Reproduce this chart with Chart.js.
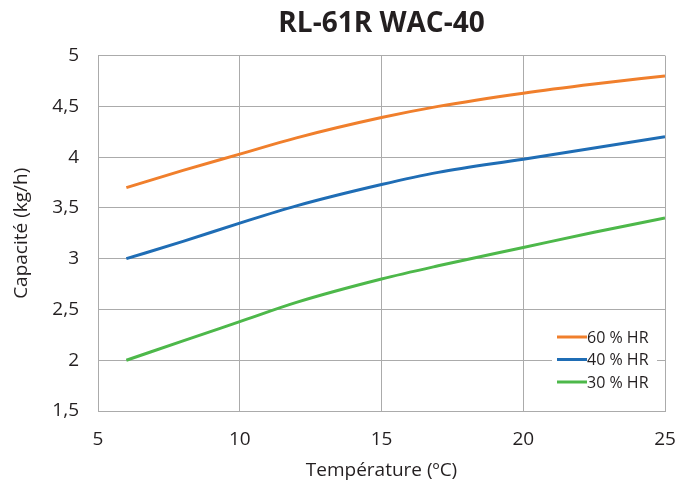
<!DOCTYPE html>
<html>
<head>
<meta charset="utf-8">
<script src="https://cdn.jsdelivr.net/npm/chart.js@4/dist/chart.umd.min.js"></script>
<style>
html,body{margin:0;padding:0;background:#fff;}
#wrap{width:675px;height:486px;position:relative;}
</style>
</head>
<body>
<div id="wrap"><canvas id="c"></canvas></div>
<script>
const temperatures = [6, 8, 10, 12, 15, 17, 20, 22.5, 25];
const hr60 = [3.70, 3.87, 4.03, 4.19, 4.39, 4.50, 4.63, 4.72, 4.80];
const hr40 = [3.00, 3.17, 3.35, 3.52, 3.73, 3.85, 3.98, 4.09, 4.20];
const hr30 = [2.00, 2.19, 2.38, 2.57, 2.80, 2.93, 3.11, 3.26, 3.40];
const seriesLabels = ['60 % HR', '40 % HR', '30 % HR'];
const titleText = 'RL-61R WAC-40';
const xTitle = 'Température (ºC)';
const yTitle = 'Capacité (kg/h)';

const colors = ['#F07F2C', '#1F6DB5', '#4DB84A'];
const FONT = "'Open Sans', 'Noto Sans', sans-serif";
const TXT = '#231F20';
const GRID = '#ABABAB';

function toPts(ys){ return temperatures.map((x,i)=>({x:x,y:ys[i]})); }

const legendPlugin = {
  id: 'insideLegend',
  afterDraw(chart){
    const ctx = chart.ctx;
    const ds = chart.data.datasets;
    ctx.save();
    ctx.fillStyle = '#fff';
    ctx.fillRect(552, 325, 105, 68);
    ctx.font = "16px " + FONT;
    ctx.textBaseline = 'middle';
    ctx.textAlign = 'left';
    ds.forEach((d,i)=>{
      const y = 337 + i*22.5;
      ctx.strokeStyle = d.borderColor;
      ctx.lineWidth = 3;
      ctx.beginPath();
      ctx.moveTo(557, y);
      ctx.lineTo(587, y);
      ctx.stroke();
      ctx.fillStyle = TXT;
      ctx.fillText(d.label, 587, y + 1);
    });
    ctx.restore();
  }
};

new Chart(document.getElementById('c'), {
  type: 'line',
  data: {
    datasets: [
      {label: seriesLabels[0], data: toPts(hr60), borderColor: colors[0]},
      {label: seriesLabels[1], data: toPts(hr40), borderColor: colors[1]},
      {label: seriesLabels[2], data: toPts(hr30), borderColor: colors[2]}
    ].map(d=>Object.assign(d,{borderWidth:3, pointRadius:0, fill:false, cubicInterpolationMode:'monotone'}))
  },
  options: {
    responsive: true,
    maintainAspectRatio: false,
    animation: false,
    layout: {padding: {top: 0, right: 10, left: 0, bottom: 0}},
    plugins: {
      legend: {display: false},
      tooltip: {enabled: false},
      title: {
        display: true,
        fullSize: false,
        text: titleText,
        color: TXT,
        font: {family: FONT, size: 28, weight: 'bold'},
        padding: {top: 7, bottom: 15}
      }
    },
    scales: {
      x: {
        type: 'linear',
        min: 5, max: 25,
        ticks: {stepSize: 5, color: TXT, font: {family: FONT, size: 19}, padding: 17},
        grid: {color: GRID, lineWidth: 1, drawTicks: false},
        border: {color: GRID},
        title: {display: true, text: xTitle, color: TXT, font: {family: FONT, size: 19}, padding: {top: 4, bottom: 4}},
        afterFit(s){ s.height = 75; s.paddingLeft = 0; s.paddingRight = 0; }
      },
      y: {
        min: 1.5, max: 5,
        ticks: {stepSize: 0.5, color: TXT, font: {family: FONT, size: 19}, padding: 19,
          callback: v => String(v).replace('.', ',')},
        grid: {color: GRID, lineWidth: 1, drawTicks: false},
        border: {color: GRID},
        title: {display: true, text: yTitle, color: TXT, font: {family: FONT, size: 19}, padding: {top: 10, bottom: 0}},
        afterFit(s){ s.width = 98; s.paddingTop = 0; s.paddingBottom = 0; }
      }
    }
  },
  plugins: [legendPlugin]
});
</script>
</body>
</html>
